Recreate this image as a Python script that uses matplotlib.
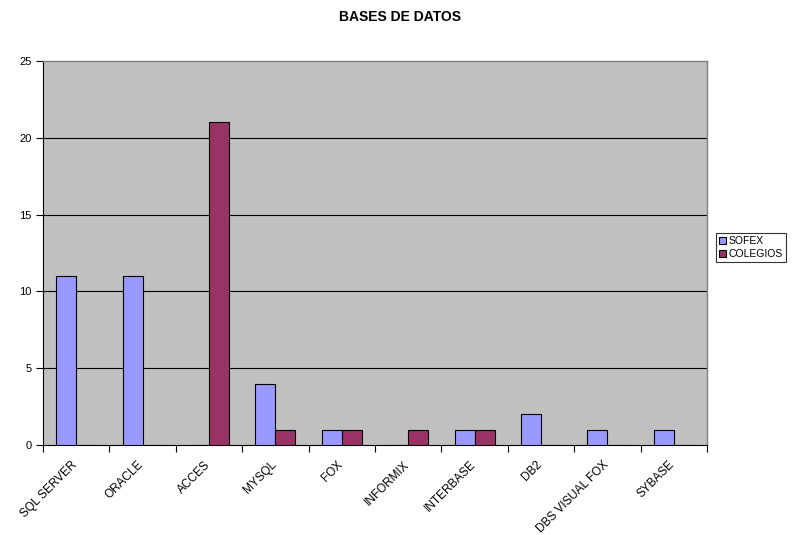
import matplotlib
matplotlib.use("Agg")
import matplotlib.pyplot as plt
import matplotlib.transforms as mtransforms
import numpy as np

plt.rcParams['font.family'] = ['Liberation Sans', 'DejaVu Sans']

categories = ["SQL SERVER", "ORACLE", "ACCES", "MYSQL", "FOX", "INFORMIX",
              "INTERBASE", "DB2", "DBS VISUAL FOX", "SYBASE"]
sofex = [11, 11, 0, 4, 1, 0, 1, 2, 1, 1]
colegios = [0, 0, 21, 1, 1, 1, 1, 0, 0, 0]
yticks = [0, 5, 10, 15, 20, 25]

fig = plt.figure(figsize=(7.93, 5.35), dpi=100)
ax = fig.add_axes([43/793, 1-445/535, (707-43)/793, (445-61)/535])
ax.set_facecolor('#c0c0c0')

x = np.arange(len(categories))
w = 0.3
b1 = ax.bar(x - w/2, sofex, w, color='#9999ff', edgecolor='black', linewidth=0.8, label='SOFEX', zorder=3)
b2 = ax.bar(x + w/2, colegios, w, color='#993366', edgecolor='black', linewidth=0.8, label='COLEGIOS', zorder=3)

ax.set_xlim(-0.5, len(categories) - 0.5)
ax.set_ylim(0, 25)
ax.set_yticks(yticks)
ax.set_yticklabels([str(t) for t in yticks], fontsize=8)
for t in yticks[1:-1]:
    ax.axhline(t, color='black', linewidth=0.8, zorder=1)

ax.set_xticks(np.arange(len(categories) + 1) - 0.5)
ax.set_xticklabels([])
ax.set_xticks(x, minor=True)
ax.set_xticklabels(categories, minor=True, rotation=45, ha='right', va='top',
                   rotation_mode='anchor', fontsize=8.5)
ax.tick_params(axis='x', which='minor', length=0, pad=10)
ax.tick_params(axis='x', which='major', length=5, direction='out', width=0.8)
ax.tick_params(axis='y', length=5, direction='out', width=0.8, pad=3)

offset = mtransforms.ScaledTranslation(-5/100, 0, fig.dpi_scale_trans)
for lbl in ax.get_xticklabels(minor=True):
    lbl.set_transform(lbl.get_transform() + offset)

for s in ['top', 'right']:
    ax.spines[s].set_color('#808080')
    ax.spines[s].set_linewidth(1)
for s in ['left', 'bottom']:
    ax.spines[s].set_color('black')
    ax.spines[s].set_linewidth(0.8)

fig.text(400/793, 1-17/535, "BASES DE DATOS", ha='center', va='center',
         fontsize=10, fontweight='bold')

leg = fig.legend(handles=[b1, b2], loc='upper left', bbox_to_anchor=(716/793, 1-233/535),
                 fontsize=7.5, frameon=True, fancybox=False, edgecolor='black',
                 handlelength=0.7, handleheight=0.7, handletextpad=0.2,
                 borderpad=0.3, labelspacing=0.3, borderaxespad=0)
leg.get_frame().set_linewidth(0.8)

fig.savefig("out.png", dpi=100)
